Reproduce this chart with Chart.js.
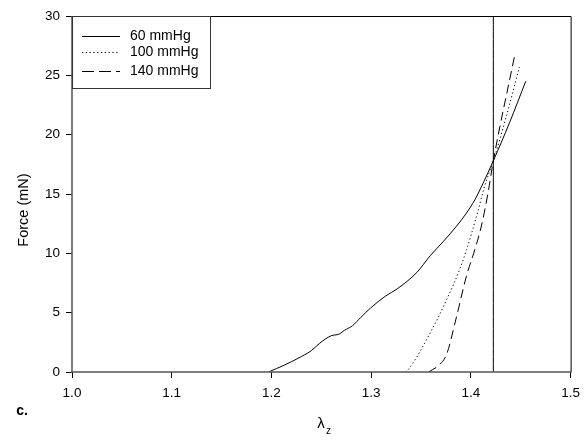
<!DOCTYPE html>
<html>
<head>
<meta charset="utf-8">
<script src="https://cdn.jsdelivr.net/npm/chart.js@4/dist/chart.umd.min.js"></script>
<style>
html,body{margin:0;padding:0;background:#fff;}
#wrap{width:587px;height:440px;position:relative;}
</style>
</head>
<body>
<div id="wrap"><canvas id="c" width="587" height="440"></canvas></div>
<script>
// ---- data ----
const seriesNames = ["60 mmHg", "100 mmHg", "140 mmHg"];
const lambda60 = [1.197, 1.2134, 1.2266, 1.240, 1.248, 1.2598, 1.268, 1.273, 1.2813, 1.2896, 1.2995, 1.3144, 1.326, 1.3459, 1.3592, 1.3724, 1.3857, 1.3956, 1.4039, 1.4122, 1.4225, 1.4387, 1.455];
const force60  = [0.0,   0.6,    1.15,   1.8,   2.4,   3.05,   3.2,   3.5,   3.9,    4.6,    5.4,    6.4,    7.0,   8.4,    9.8,    11.0,   12.3,   13.4,   14.5,   15.9,   17.8,   21.0,   24.5];
const lambda100 = [1.3343, 1.3376, 1.3592, 1.3757, 1.389, 1.3956, 1.4056, 1.4139, 1.4225, 1.4354, 1.4486];
const force100  = [0.0,    0.25,   3.3,    6.1,    8.7,   10.3,   13.1,   15.7,   17.8,   21.5,   25.7];
const lambda140 = [1.3575, 1.369, 1.3757, 1.3857, 1.3956, 1.4039, 1.4105, 1.4172, 1.4225, 1.4437];
const force140  = [0.0,    0.65,  1.5,    4.7,    8.1,    10.3,   12.3,   15.1,   17.8,   26.6];
const refLambda = [1.4225, 1.4225];
const refForce  = [0, 30];
const xTicks = [1.0, 1.1, 1.2, 1.3, 1.4, 1.5];
const yTicks = [0, 5, 10, 15, 20, 25, 30];
const xTitleMain = "λ";
const xTitleSub = "z";
const yTitle = "Force (mN)";
const panelLabel = "c.";

const dashes = [[], [1.2, 2.6], [9, 5]];
const FONT = "'Liberation Sans', Arial, sans-serif";

function pts(xs, ys){ return xs.map((x,i)=>({x:x, y:ys[i]})); }

const datasets = [
  {label: seriesNames[0], data: pts(lambda60, force60), borderDash: dashes[0]},
  {label: seriesNames[1], data: pts(lambda100, force100), borderDash: dashes[1]},
  {label: seriesNames[2], data: pts(lambda140, force140), borderDash: dashes[2]},
  {label: "ref", data: pts(refLambda, refForce), borderDash: []}
].map(d => Object.assign({
  borderColor: "#000", borderWidth: 1, pointRadius: 0, fill: false,
  cubicInterpolationMode: "monotone", showLine: true
}, d));

const decorPlugin = {
  id: "decor",
  afterDatasetsDraw(chart){
    const ctx = chart.ctx, a = chart.chartArea;
    ctx.save();
    // frame (top / right)
    ctx.strokeStyle = "#000"; ctx.lineWidth = 1;
    ctx.beginPath();
    ctx.moveTo(a.left, a.top + 0.5); ctx.lineTo(a.right + 0.5, a.top + 0.5);
    ctx.lineTo(a.right + 0.5, a.bottom);
    ctx.stroke();
    // axis lines left / bottom
    ctx.strokeStyle = "#555"; ctx.lineWidth = 1.5;
    ctx.beginPath();
    ctx.moveTo(a.left, a.top); ctx.lineTo(a.left, a.bottom); ctx.lineTo(a.right + 1, a.bottom);
    ctx.stroke();
    // legend box
    const lx = a.left, ly = a.top, lw = 138, lh = 72;
    ctx.fillStyle = "#fff";
    ctx.fillRect(lx, ly, lw, lh);
    ctx.strokeStyle = "#333"; ctx.lineWidth = 1;
    ctx.strokeRect(lx + 0.5, ly + 0.5, lw, lh);
    ctx.font = "14px " + FONT;
    ctx.fillStyle = "#000";
    ctx.textBaseline = "middle"; ctx.textAlign = "left";
    const rows = [19.7, 36.3, 54.7];
    seriesNames.forEach((n, i) => {
      const y = ly + rows[i];
      ctx.setLineDash(i === 2 ? [12, 5] : dashes[i]);
      ctx.strokeStyle = "#000"; ctx.lineWidth = 1;
      ctx.beginPath(); ctx.moveTo(lx + 10, Math.round(y) + 0.5); ctx.lineTo(lx + 48, Math.round(y) + 0.5); ctx.stroke();
      ctx.setLineDash([]);
      ctx.fillText(n, lx + 58, y);
    });
    // axis titles
    ctx.font = "14.5px " + FONT;
    ctx.textAlign = "center";
    ctx.save();
    ctx.translate(24, 210);
    ctx.rotate(-Math.PI / 2);
    ctx.fillText(yTitle, 0, 0);
    ctx.restore();
    ctx.font = "15px " + FONT;
    ctx.fillText(xTitleMain, 321, 424);
    ctx.font = "10px " + FONT;
    ctx.fillText(xTitleSub, 328.5, 431);
    // panel label
    ctx.font = "bold 14px " + FONT;
    ctx.fillText(panelLabel, 22, 411);
    ctx.restore();
  }
};

new Chart(document.getElementById("c"), {
  type: "scatter",
  data: {datasets},
  options: {
    responsive: false,
    animation: false,
    devicePixelRatio: 1,
    layout: {padding: {top: 16, right: 12, left: 0, bottom: 0}},
    plugins: {legend: {display: false}, tooltip: {enabled: false}},
    scales: {
      x: {
        type: "linear", min: 1.0, max: 1.5,
        afterFit(s){ s.height = 68; },
        afterBuildTicks(s){ s.ticks = xTicks.map(v => ({value: v})); },
        border: {display: false},
        grid: {drawOnChartArea: false, drawTicks: true, tickLength: 6, color: "#000", lineWidth: 1},
        ticks: {color: "#000", font: {family: FONT, size: 13.5}, padding: 7, maxRotation: 0,
                callback: v => v.toFixed(1)}
      },
      y: {
        type: "linear", min: 0, max: 30,
        afterFit(s){ s.width = 72; },
        afterBuildTicks(s){ s.ticks = yTicks.map(v => ({value: v})); },
        border: {display: false},
        grid: {drawOnChartArea: false, drawTicks: true, tickLength: 6, color: "#000", lineWidth: 1},
        ticks: {color: "#000", font: {family: FONT, size: 13.5}, padding: 6,
                callback: v => String(v)}
      }
    }
  },
  plugins: [decorPlugin]
});
</script>
</body>
</html>
